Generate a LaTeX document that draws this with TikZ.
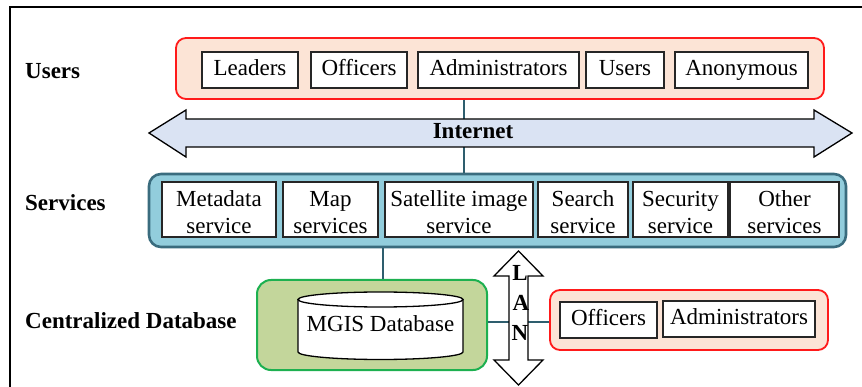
\documentclass[tikz,border=0pt]{standalone}
\usepackage{fontspec}
\setmainfont{Liberation Serif}
\definecolor{peach}{HTML}{FCE4D6}
\definecolor{redb}{HTML}{FF1A1A}
\definecolor{arrowblue}{HTML}{DAE3F3}
\definecolor{svcfill}{HTML}{92CDDC}
\definecolor{svcline}{HTML}{3A6C7E}
\definecolor{conn}{HTML}{2E5E6E}
\definecolor{dbfill}{HTML}{C3D69B}
\definecolor{dbline}{HTML}{1DB050}
\newcommand\topstr{\rule{0pt}{21pt}}
\begin{document}
\begin{tikzpicture}[x=1pt,y=-1pt,font=\fontsize{23}{26.6}\selectfont,
  usergroup/.style={draw=redb,fill=peach,line width=1.8pt,rounded corners=10pt,inner sep=0pt},
  svgroup/.style={draw=svcline,fill=svcfill,line width=2.6pt,rounded corners=12pt,inner sep=0pt},
  dbgroup/.style={draw=dbline,fill=dbfill,line width=2pt,rounded corners=14pt,inner sep=0pt},
  itembox/.style={draw=black!85,fill=white,line width=1.3pt,inner sep=0pt,text height=15.7pt,text depth=4.5pt},
  svbox/.style={draw=black!85,fill=white,line width=1.3pt,inner sep=0pt,align=center,minimum height=55pt},
  rowlabel/.style={anchor=base west,font=\fontsize{23}{26.6}\selectfont\bfseries,inner sep=0pt},
  connector/.style={draw=conn,line width=2.6pt},
  bigarrow/.style={draw=black,line width=1.3pt,line join=miter}]
\useasboundingbox (0,0) rectangle (862,387);
% frame
\draw[line width=1.3pt] (10,387) -- (10,7) -- (862,7);

% row labels
\node[rowlabel] (lu) at (25,79) {Users};
\node[rowlabel] (ls) at (25,211) {Services};
\node[rowlabel] (ld) at (25,329) {Centralized Database};

% users group
\node[usergroup,minimum width=648pt,minimum height=61pt] (ub) at (500,68.5) {};
\node[itembox,minimum width=96pt,minimum height=36pt] (u1) at (250,70) {Leaders};
\node[itembox,minimum width=96pt,minimum height=36pt] (u2) at (359,70) {Officers};
\node[itembox,minimum width=161pt,minimum height=36pt] (u3) at (498.5,70) {Administrators};
\node[itembox,minimum width=78pt,minimum height=36pt] (u4) at (625,70) {Users};
\node[itembox,minimum width=133pt,minimum height=36pt] (u5) at (741.5,70) {Anonymous};

% services group
\node[svgroup,minimum width=697pt,minimum height=73pt] (sv) at (497.5,210.5) {};
\node[svbox,minimum width=114pt] (s1) at (219,209.5) {\topstr Metadata\\service};
\node[svbox,minimum width=95pt] (s2) at (330.5,209.5) {\topstr Map\\services};
\node[svbox,minimum width=148pt] (s3) at (459,209.5) {\topstr Satellite image\\service};
\node[svbox,minimum width=90pt] (s4) at (583,209.5) {\topstr Search\\service};
\node[svbox,minimum width=95pt] (s5) at (680.5,209.5) {\topstr Security\\service};
\node[svbox,minimum width=109pt] (s6) at (784.5,209.5) {\topstr Other\\services};

% internet arrow
\coordinate (itop) at (464,119);
\coordinate (ibot) at (464,147);
\draw[connector] (ub.south -| itop) -- (itop);
\draw[connector] (ibot) -- (ibot |- sv.north);
\draw[bigarrow,fill=arrowblue] (149,133) -- (186,110) -- (186,119) -- (814,119) -- (814,110)
  -- (852,133) -- (814,157) -- (814,147) -- (186,147) -- (186,157) -- cycle;
\node[font=\fontsize{23}{26.6}\selectfont\bfseries,anchor=base,inner sep=0pt] (inet) at (473,139) {Internet};

% database group
\node[dbgroup,minimum width=230pt,minimum height=90pt] (dbb) at (372,325) {};
\coordinate (dbx) at (383,0);
\draw[connector] (sv.south -| dbx) -- (dbb.north -| dbx);
\draw[line width=1.3pt,fill=white] (298,299.5) -- (298,352)
  .. controls (298,356.14) and (334.94,359.5) .. (380.5,359.5)
  .. controls (426.06,359.5) and (463,356.14) .. (463,352) -- (463,299.5) -- cycle;
\draw[line width=1.3pt,fill=white] (380.5,299.5) ellipse [x radius=82.5, y radius=7.5];
\node[anchor=base,inner sep=0pt] (db) at (380.5,331.7) {MGIS Database};

% LAN users group
\node[usergroup,minimum width=278pt,minimum height=60pt] (rb) at (689,320) {};
\node[itembox,minimum width=97pt,minimum height=36pt] (o1) at (608.5,320) {Officers};
\node[itembox,minimum width=152pt,minimum height=36pt] (o2) at (739,319) {Administrators};

% LAN connector and arrow
\coordinate (lany) at (0,322);
\draw[connector] (dbb.east |- lany) -- (rb.west |- lany);
\draw[bigarrow,fill=white] (518.5,251) -- (543,276) -- (528,276) -- (528,360) -- (543,360)
  -- (518.5,385) -- (494,360) -- (509,360) -- (509,276) -- (494,276) -- cycle;
\node[font=\fontsize{23}{26.6}\selectfont\bfseries,anchor=base,inner sep=0pt] (lanL) at (520,281) {L};
\node[font=\fontsize{23}{26.6}\selectfont\bfseries,anchor=base,inner sep=0pt] (lanA) at (521,311) {A};
\node[font=\fontsize{23}{26.6}\selectfont\bfseries,anchor=base,inner sep=0pt] (lanN) at (520,340) {N};
\end{tikzpicture}
\end{document}
